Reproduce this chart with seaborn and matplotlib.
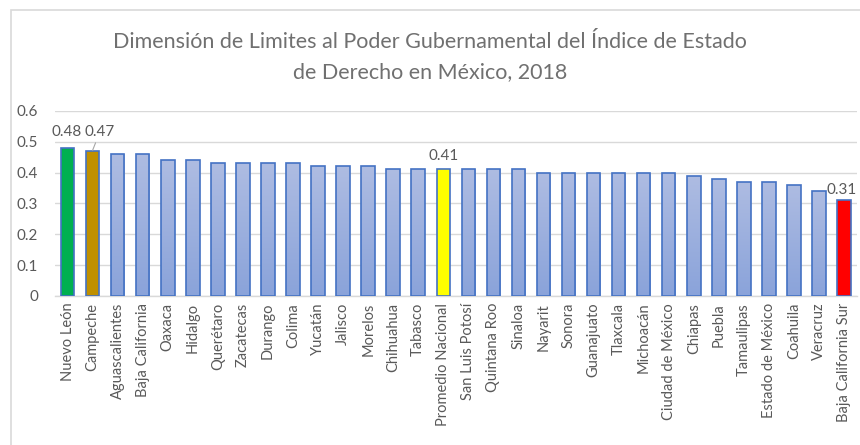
import matplotlib
matplotlib.use("Agg")
import matplotlib.pyplot as plt
import matplotlib.patches as mpatches
import numpy as np
import pandas as pd
import seaborn as sns

estados = ["Nuevo León", "Campeche", "Aguascalientes", "Baja California", "Oaxaca",
           "Hidalgo", "Querétaro", "Zacatecas", "Durango", "Colima", "Yucatán",
           "Jalisco", "Morelos", "Chihuahua", "Tabasco", "Promedio Nacional",
           "San Luis Potosí", "Quintana Roo", "Sinaloa", "Nayarit", "Sonora",
           "Guanajuato", "Tlaxcala", "Michoacán", "Ciudad de México", "Chiapas",
           "Puebla", "Tamaulipas", "Estado de México", "Coahuila", "Veracruz",
           "Baja California Sur"]
valores = [0.48, 0.47, 0.46, 0.46, 0.44, 0.44, 0.43, 0.43, 0.43, 0.43, 0.42,
           0.42, 0.42, 0.41, 0.41, 0.41, 0.41, 0.41, 0.41, 0.40, 0.40, 0.40,
           0.40, 0.40, 0.40, 0.39, 0.38, 0.37, 0.37, 0.36, 0.34, 0.31]
destacados = {"Nuevo León": "#00B050", "Campeche": "#BF9000",
              "Promedio Nacional": "#FFFF00", "Baja California Sur": "#FF0000"}
etiquetas = ["Nuevo León", "Campeche", "Promedio Nacional", "Baja California Sur"]

df = pd.DataFrame({"estado": estados, "valor": valores})

sns.set_theme(style="white")
plt.rcParams["font.family"] = ["Lato", "DejaVu Sans"]
gris = "#595959"

fig = plt.figure(figsize=(8.6, 4.45), dpi=100)
ax = fig.add_axes([0.064, 0.335, 0.932, 0.416])

sns.barplot(data=df, x="estado", y="valor", color="#9DB0DE", width=0.54,
            edgecolor="#4472C4", linewidth=1.2, ax=ax, zorder=3)

# gradient fill on the plain bars, solid colour on the highlighted ones
grad = np.linspace(0, 1, 256).reshape(-1, 1)
cmap = matplotlib.colors.LinearSegmentedColormap.from_list("g", ["#8AA3DA", "#AEBCE2"])
for bar, est in zip(ax.patches, estados):
    if est in destacados:
        bar.set_facecolor(destacados[est])
    else:
        x0, w, h = bar.get_x(), bar.get_width(), bar.get_height()
        im = ax.imshow(grad, cmap=cmap, extent=[x0, x0 + w, 0, h], origin="lower",
                       aspect="auto", zorder=3.5)
        im.set_clip_path(bar)
        bar.set_facecolor("none")
        bar.set_zorder(4)

for bar, est, v in zip(ax.patches, estados, valores):
    if est in etiquetas:
        cx = bar.get_x() + bar.get_width() / 2
        if est == "Campeche":
            ax.annotate(f"{v:.2f}", xy=(cx, v + 0.002), xytext=(cx + 0.28, v + 0.037),
                        ha="center", va="bottom", fontsize=11, color=gris,
                        arrowprops=dict(arrowstyle="-", color="#A6A6A6", lw=0.8,
                                        shrinkA=0, shrinkB=0))
        elif est == "Nuevo León":
            ax.text(cx - 0.05, v + 0.027, f"{v:.2f}", ha="center", va="bottom",
                    fontsize=11, color=gris)
        elif est == "Baja California Sur":
            ax.text(cx - 0.1, v + 0.012, f"{v:.2f}", ha="center", va="bottom",
                    fontsize=11, color=gris)
        else:
            ax.text(cx, v + 0.02, f"{v:.2f}", ha="center", va="bottom",
                    fontsize=11, color=gris)

ax.set_ylim(0, 0.6)
ax.set_xlim(-0.5, len(estados) - 0.5)
ax.set_yticks([0, 0.1, 0.2, 0.3, 0.4, 0.5, 0.6])
ax.set_yticklabels(["0", "0.1", "0.2", "0.3", "0.4", "0.5", "0.6"])
ax.yaxis.grid(True, color="#D9D9D9", linewidth=1, zorder=0)
ax.set_axisbelow(True)
for s in ["top", "right", "left"]:
    ax.spines[s].set_visible(False)
ax.spines["bottom"].set_color("#D9D9D9")
ax.spines["bottom"].set_linewidth(1)
ax.tick_params(axis="y", labelsize=11, colors=gris, length=0, pad=12)
ax.tick_params(axis="x", labelsize=10.5, colors=gris, length=0, pad=5)
plt.setp(ax.get_xticklabels(), rotation=90)
ax.set_xlabel("")
ax.set_ylabel("")

fig.text(0.5, 0.905, "Dimensión de Limites al Poder Gubernamental del Índice de Estado",
         ha="center", va="center", fontsize=15.5, color="#707070")
fig.text(0.5, 0.838, "de Derecho en México, 2018",
         ha="center", va="center", fontsize=15.5, color="#707070")

border = mpatches.Rectangle((11 / 860, -0.01), 1.0, (445 - 10) / 445 + 0.01,
                            transform=fig.transFigure, fill=False,
                            edgecolor="#D9D9D9", linewidth=1.2)
fig.patches.append(border)

fig.savefig("out.png", dpi=100)
